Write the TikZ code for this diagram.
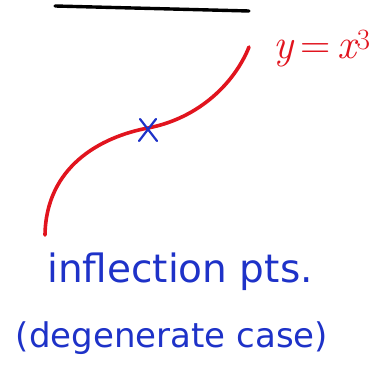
\documentclass[tikz,border=0pt]{standalone}
\usepackage{fontspec}
\setsansfont{DejaVu Sans}
\definecolor{pen}{RGB}{225,20,30}
\definecolor{ink}{RGB}{30,50,200}
\begin{document}
\begin{tikzpicture}[x=1pt,y=1pt,
  curve/.style={pen,line width=3.6pt,line cap=round},
  rule/.style={black,line width=3.4pt,line cap=round},
  cross/.style={ink,line width=2.2pt,line cap=round},
  note/.style={ink,inner sep=0pt}]
\useasboundingbox (0,0) rectangle (374,367);
\coordinate (r1) at (55,361);
\coordinate (r2) at (249,356);
\draw[rule] (r1) -- (r2);
\coordinate (s) at (45,132);
\coordinate (ip) at (148,239);
\coordinate (e) at (249,320);
\draw[curve] (s) .. controls (46,200) and (100,230) .. (ip)
  .. controls (200,249) and (235,285) .. (e);
\draw[cross] (140,248) -- (157,226);
\draw[cross] (156,248) -- (139,226);
\node[pen,inner sep=0pt,font=\fontsize{42}{46}\selectfont] (lab) at (322,318)
  {\itshape y\,\upshape=\,\itshape x\textsuperscript{\upshape 3}};
\node[note,font=\sffamily\fontsize{39}{44}\selectfont] (t1) at (180,95) {inflection pts.};
\node[note,font=\sffamily\fontsize{34}{40}\selectfont] (t2) at (172,29) {(degenerate case)};
\end{tikzpicture}
\end{document}
